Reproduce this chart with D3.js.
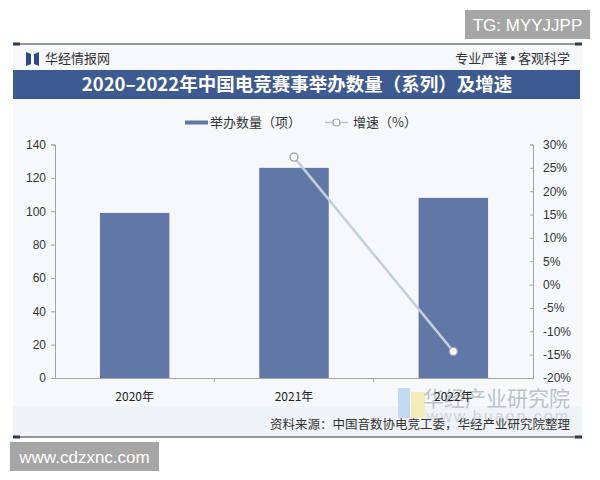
<!DOCTYPE html>
<html><head><meta charset="utf-8">
<script src="https://cdn.jsdelivr.net/npm/d3@7/dist/d3.min.js"></script>
<style>
html,body{margin:0;padding:0;background:#fff;}
svg{display:block;}
</style>
</head><body>
<svg id="c" width="600" height="480"></svg>
<script>
const years = ["2020年", "2021年", "2022年"];
const counts = [99, 126, 108];
const growth = [null, 27.3, -14.3];
const leftTicks = [0, 20, 40, 60, 80, 100, 120, 140];
const rightTicks = [-20, -15, -10, -5, 0, 5, 10, 15, 20, 25, 30];
const title = "2020–2022年中国电竞赛事举办数量（系列）及增速";
const seriesNames = ["举办数量（项）", "增速（%）"];
const sourceText = "资料来源：中国音数协电竞工委，华经产业研究院整理";

const CJK = "'Noto Sans CJK SC','Noto Sans',sans-serif";
const LAT = "'Liberation Sans',Arial,sans-serif";
const svg = d3.select("#c");

// panel background
svg.append("rect").attr("x",13).attr("y",44).attr("width",569).attr("height",393).attr("fill","#f6f8fb");
svg.append("rect").attr("x",13).attr("y",406).attr("width",569).attr("height",31).attr("fill","#eff2f6");
// top & bottom rules
[44, 437].forEach(y=>{
  svg.append("line").attr("x1",13).attr("x2",582).attr("y1",y).attr("y2",y).attr("stroke","#6b7687").attr("stroke-width",1.5);
  svg.append("rect").attr("x",13).attr("y",y-1.5).attr("width",7).attr("height",3).attr("fill","#2f3b52");
  svg.append("rect").attr("x",575).attr("y",y-1.5).attr("width",7).attr("height",3).attr("fill","#2f3b52");
});

// header
const logo = svg.append("g").attr("transform","translate(26,52)");
logo.append("path").attr("d","M0,0 L5,2 L5,12 L0,14 Z").attr("fill","#2e4a80");
logo.append("path").attr("d","M13,0 L8,2 L8,12 L13,14 Z").attr("fill","#2e4a80");
svg.append("text").attr("x",45).attr("y",63).attr("font-family",CJK).attr("font-size",13).attr("fill","#333").text("华经情报网");
const hr = svg.append("text").attr("x",570).attr("y",63).attr("text-anchor","end").attr("font-family",CJK).attr("font-size",13).attr("fill","#333");
hr.append("tspan").text("专业严谨 ");
hr.append("tspan").attr("font-family",LAT).attr("font-size",14).text("•");
hr.append("tspan").text(" 客观科学");

// title bar
svg.append("rect").attr("x",13).attr("y",70).attr("width",567).attr("height",29).attr("fill","#3d5a91");
svg.append("text").attr("x",297).attr("y",91).attr("text-anchor","middle").attr("font-family",CJK).attr("font-weight","bold").attr("font-size",18.5).attr("fill","#fff").text(title);

// watermark logo + text bottom right
svg.append("rect").attr("x",398).attr("y",388).attr("width",12).attr("height",30).attr("fill","#b9d1ee").attr("opacity",0.8);
svg.append("rect").attr("x",411).attr("y",392).attr("width",14).attr("height",26).attr("fill","#f5e7a8").attr("opacity",0.8);
svg.append("text").attr("x",570).attr("y",406).attr("text-anchor","end").attr("font-family",CJK).attr("font-size",21).attr("fill","#bcc2cb").text("华经产业研究院");
svg.append("text").attr("x",570).attr("y",422).attr("text-anchor","end").attr("font-family",LAT).attr("font-size",16).attr("letter-spacing",2).attr("fill","#cdd2da").text("www.huaon.com");

// scales
const x = d3.scaleBand().domain(years).range([55,533]).paddingInner(0.564).paddingOuter(0.282);
const yL = d3.scaleLinear().domain([0,140]).range([378,144.5]);
const yR = d3.scaleLinear().domain([-20,30]).range([378,144.5]);

// bars
svg.append("g").selectAll("rect").data(counts).join("rect")
  .attr("x",(d,i)=>x(years[i])).attr("y",d=>yL(d))
  .attr("width",x.bandwidth()).attr("height",d=>yL(0)-yL(d))
  .attr("fill","#6178a6");

// axes
const axisColor = "#a3a3a3";
const gL = svg.append("g").attr("transform","translate(55,0)")
  .call(d3.axisLeft(yL).tickValues(leftTicks).tickSize(4).tickPadding(5));
const gR = svg.append("g").attr("transform","translate(533,0)")
  .call(d3.axisRight(yR).tickValues(rightTicks).tickSize(-3).tickPadding(10).tickFormat(d=>d+"%"));
const gX = svg.append("g").attr("transform","translate(0,378)")
  .call(d3.axisBottom(x).tickSize(0).tickPadding(14));
[gL,gR].forEach(g=>{
  g.select(".domain").attr("stroke",axisColor);
  g.selectAll(".tick line").attr("stroke",axisColor);
  g.selectAll("text").attr("font-family",LAT).attr("font-size",12).attr("fill","#333");
});
gX.select(".domain").attr("stroke",axisColor);
gX.selectAll("text").attr("font-family",CJK).attr("font-size",12).attr("fill","#222");
// category boundary ticks
svg.append("g").selectAll("line").data(years.slice(1)).join("line")
  .attr("x1",d=>x(d)-x.step()*x.paddingInner()/2).attr("x2",d=>x(d)-x.step()*x.paddingInner()/2)
  .attr("y1",378).attr("y2",382).attr("stroke",axisColor);

// growth line
const pts = growth.map((g,i)=>({g, c: years[i]})).filter(d=>d.g!==null);
svg.append("path").datum(pts)
  .attr("d", d3.line().x(d=>x(d.c)+x.bandwidth()/2).y(d=>yR(d.g)))
  .attr("fill","none").attr("stroke","#c5cedb").attr("stroke-width",2.5);
svg.append("g").selectAll("circle").data(pts).join("circle")
  .attr("cx",d=>x(d.c)+x.bandwidth()/2).attr("cy",d=>yR(d.g)).attr("r",4)
  .attr("fill","#fff").attr("stroke","#98a3b4").attr("stroke-width",1.3);

// legend
svg.append("rect").attr("x",185).attr("y",120.5).attr("width",23).attr("height",4).attr("fill","#6178a6");
svg.append("text").attr("x",210).attr("y",127).attr("font-family",CJK).attr("font-size",13).attr("fill","#333").text(seriesNames[0]);
svg.append("line").attr("x1",325).attr("x2",348).attr("y1",122.5).attr("y2",122.5).attr("stroke","#b9c2cf").attr("stroke-width",1.5);
svg.append("circle").attr("cx",336.5).attr("cy",122.5).attr("r",3.5).attr("fill","#fff").attr("stroke","#98a3b4").attr("stroke-width",1.2);
svg.append("text").attr("x",353).attr("y",127).attr("font-family",CJK).attr("font-size",13).attr("fill","#333").text(seriesNames[1]);

// source
svg.append("text").attr("x",570).attr("y",429).attr("text-anchor","end").attr("font-family",CJK).attr("font-size",12.5).attr("fill","#333").text(sourceText);

// corner stamps
svg.append("rect").attr("x",465).attr("y",10).attr("width",125).attr("height",29).attr("fill","#a6a6a6");
svg.append("text").attr("x",527.5).attr("y",31).attr("text-anchor","middle").attr("font-family",LAT).attr("font-size",17).attr("fill","#fff").text("TG: MYYJJPP");
svg.append("rect").attr("x",10).attr("y",442).attr("width",149).attr("height",29).attr("fill","#a6a6a6");
svg.append("text").attr("x",84.5).attr("y",463).attr("text-anchor","middle").attr("font-family",LAT).attr("font-size",17).attr("fill","#fff").text("www.cdzxnc.com");
</script>
</body></html>
